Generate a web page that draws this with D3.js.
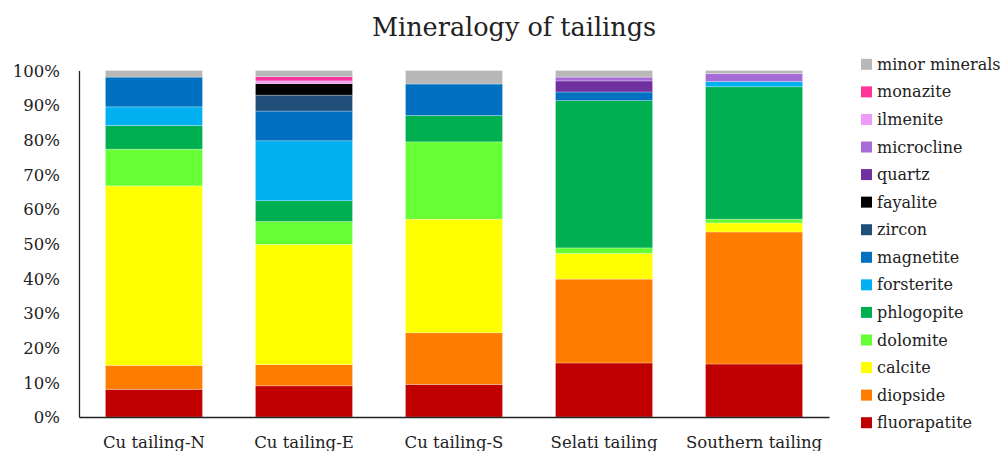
<!DOCTYPE html>
<html>
<head>
<meta charset="utf-8">
<script src="https://cdn.jsdelivr.net/npm/d3@7"></script>
<style>
  html, body { margin: 0; padding: 0; background: #fff; }
  svg { display: block; }
  text { font-family: "DejaVu Serif", "Liberation Serif", serif; fill: #222; }
</style>
</head>
<body>
<svg id="chart" width="1008" height="451"></svg>
<script>
// ---- data (percent of each tailing) ----
const categories = ["Cu tailing-N", "Cu tailing-E", "Cu tailing-S", "Selati tailing", "Southern tailing"];
const minerals = ["fluorapatite", "diopside", "calcite", "dolomite", "phlogopite", "forsterite",
                  "magnetite", "zircon", "fayalite", "quartz", "microcline", "ilmenite", "monazite", "minor minerals"];
const fluorapatite  = [8.0, 9.0, 9.4, 15.6, 15.3];
const diopside      = [6.9, 6.1, 14.9, 24.2, 38.1];
const calcite       = [51.8, 34.7, 32.8, 7.4, 2.6];
const dolomite      = [10.6, 6.6, 22.3, 1.6, 1.1];
const phlogopite    = [6.8, 6.0, 7.6, 42.5, 38.2];
const forsterite    = [5.4, 17.3, 0, 0, 1.5];
const magnetite     = [8.6, 8.6, 9.1, 2.5, 0];
const zircon        = [0, 4.6, 0, 0, 0];
const fayalite      = [0, 3.3, 0, 0, 0];
const quartz        = [0, 0, 0, 3.2, 0];
const microcline    = [0, 0, 0, 1.1, 2.3];
const ilmenite      = [0, 0.8, 0, 0, 0];
const monazite      = [0, 1.2, 0, 0, 0];
const minorMinerals = [1.9, 1.8, 3.9, 1.9, 0.9];
const yTicks = [0, 10, 20, 30, 40, 50, 60, 70, 80, 90, 100];
const colors = ["#C00000", "#FF7C00", "#FFFF00", "#66FF33", "#00B050", "#00B0F0",
                "#0070C0", "#1F4E79", "#000000", "#7030A0", "#A66BD6", "#EA9CF6", "#FF3399", "#B8B8B8"];

const seriesValues = [fluorapatite, diopside, calcite, dolomite, phlogopite, forsterite,
                      magnetite, zircon, fayalite, quartz, microcline, ilmenite, monazite, minorMinerals];

const table = categories.map((c, i) => {
  const row = { category: c };
  minerals.forEach((m, j) => row[m] = seriesValues[j][i]);
  return row;
});

const svg = d3.select("#chart");
const x = d3.scaleBand().domain(categories).range([79, 829]).paddingInner(0.353).paddingOuter(0.176);
const y = d3.scaleLinear().domain([0, 100]).range([417, 70.5]);
const color = d3.scaleOrdinal().domain(minerals).range(colors);

const stack = d3.stack().keys(minerals);
const layers = stack(table);

svg.append("g").selectAll("g")
  .data(layers)
  .join("g")
  .attr("fill", d => color(d.key))
  .selectAll("rect")
  .data(d => d.filter(s => s[1] - s[0] > 0))
  .join("rect")
  .attr("x", d => x(d.data.category))
  .attr("width", x.bandwidth())
  .attr("y", d => y(d[1]))
  .attr("height", d => y(d[0]) - y(d[1]))
  .attr("stroke", "#ffffff")
  .attr("stroke-width", 0.6)
  .attr("stroke-opacity", 0.45);

// y axis
const yAxis = d3.axisLeft(y).tickValues(yTicks).tickFormat(d => d + "%").tickSize(0).tickPadding(19);
const gy = svg.append("g").attr("transform", "translate(79,0)").call(yAxis);
gy.select(".domain").attr("stroke", "#222").attr("stroke-width", 1.3);
gy.selectAll("text").style("font-size", "16.5px").attr("dy", "0.35em");

// x axis
const xAxis = d3.axisBottom(x).tickSize(0).tickPadding(19);
const gx = svg.append("g").attr("transform", "translate(0,417)").call(xAxis);
gx.select(".domain").attr("stroke", "#222").attr("stroke-width", 1.3);
gx.selectAll("text").style("font-size", "16.5px").attr("dy", "0.71em");

// title
svg.append("text")
  .attr("x", 514).attr("y", 36)
  .attr("text-anchor", "middle")
  .style("font-size", "25.5px")
  .text("Mineralogy of tailings");

// legend (top to bottom = reverse stack order)
const legendItems = minerals.slice().reverse();
const ly = d3.scalePoint().domain(legendItems).range([64.3, 422.7]);
const lg = svg.append("g").selectAll("g")
  .data(legendItems)
  .join("g")
  .attr("transform", d => `translate(861,${ly(d)})`);
lg.append("rect").attr("x", 0).attr("y", -5.5).attr("width", 11).attr("height", 11).attr("fill", d => color(d));
lg.append("text").attr("x", 16).attr("y", 0).attr("dy", "0.35em").style("font-size", "16px").text(d => d);
</script>
</body>
</html>
